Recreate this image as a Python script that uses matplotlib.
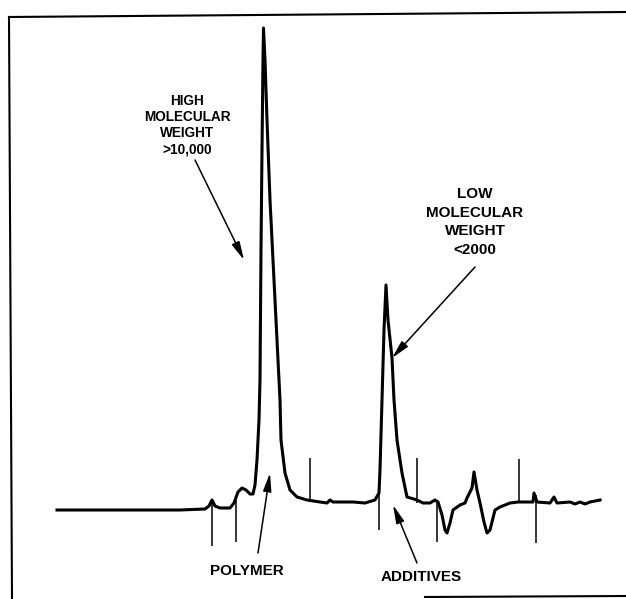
import matplotlib.pyplot as plt

plt.rcParams['font.family'] = ['Liberation Sans', 'DejaVu Sans']

# detector trace (x = time position, y = chart-paper position, downward)
trace_x = [57, 120, 180, 205, 209, 212, 215, 220, 230, 234, 238, 242, 246, 250, 253,
           255, 257, 259, 260, 261, 262, 263, 263.5, 265, 267, 270, 272, 276, 280, 281,
           285, 290, 297, 307, 320, 327, 330, 333, 345, 353, 365, 375, 379, 380, 382,
           384, 386, 388, 392, 394, 397, 402, 407, 417, 423, 430, 435, 438, 442, 445,
           447, 450, 453, 460, 465, 467, 472, 474, 477, 480, 484, 487, 490, 495, 500,
           510, 518, 533, 534, 537, 550, 554, 557, 570, 575, 580, 585, 590, 600]
trace_y = [510, 510, 510, 509, 506, 500, 506, 508, 508, 503, 492, 488, 490, 494, 494,
           485, 460, 420, 380, 250, 150, 60, 28, 60, 120, 200, 240, 320, 400, 440,
           473, 490, 497, 500, 502, 503, 500, 502, 502, 502, 503, 500, 493, 470, 400,
           330, 285, 320, 358, 400, 440, 473, 497, 500, 503, 503, 500, 502, 515, 530,
           533, 523, 510, 505, 503, 498, 488, 472, 490, 503, 522, 533, 530, 510, 507,
           503, 502, 502, 493, 502, 503, 497, 503, 502, 504, 502, 504, 502, 500]

# event marker ticks: x, top, bottom
mark_x = [212, 236, 310, 379, 417, 437, 519, 536]
mark_top = [500, 500, 458, 493, 458, 500, 459, 495]
mark_bot = [546, 542, 502, 530, 503, 542, 502, 543]

# labels: text, text centre, arrow start, arrow tip, size, spacing
labels = ['HIGH\nMOLECULAR\nWEIGHT\n>10,000', 'LOW\nMOLECULAR\nWEIGHT\n<2000',
          'POLYMER', 'ADDITIVES']
label_pos = [(187, 125), (475, 222), (247, 571), (421, 577)]
arrow_from = [(195, 160), (475, 267), (258, 553), (417, 563)]
arrow_to = [(244, 260), (392, 358), (270, 473), (393, 505)]
label_size = [9.8, 11, 11, 11]
label_spacing = [1.2, 1.4, 1, 1]

fig = plt.figure(figsize=(6.26, 5.99), dpi=100)
ax = fig.add_axes([0, 0, 1, 1])
ax.set_xlim(0, 626)
ax.set_ylim(599, 0)
ax.axis('off')

# frame
ax.plot([9, 626], [17, 12], color='black', lw=1.5)
ax.plot([9, 12], [17, 599], color='black', lw=1.5)
ax.plot([425, 626], [597, 596], color='black', lw=1.5)

ax.vlines(mark_x, mark_top, mark_bot, color='black', lw=1.1)
ax.plot(trace_x, trace_y, color='black', lw=2.2, solid_joinstyle='round')

for txt, pos, a0, a1, fs, sp in zip(labels, label_pos, arrow_from, arrow_to,
                                    label_size, label_spacing):
    ax.text(pos[0], pos[1], txt, ha='center', va='center', fontsize=fs,
            fontweight='bold', linespacing=sp)
    ax.annotate('', xy=a1, xytext=a0,
                arrowprops=dict(arrowstyle='-|>,head_length=1.1,head_width=0.25',
                                color='black', lw=1.1, shrinkA=0, shrinkB=0,
                                mutation_scale=10))

fig.savefig('out.png', dpi=100)
